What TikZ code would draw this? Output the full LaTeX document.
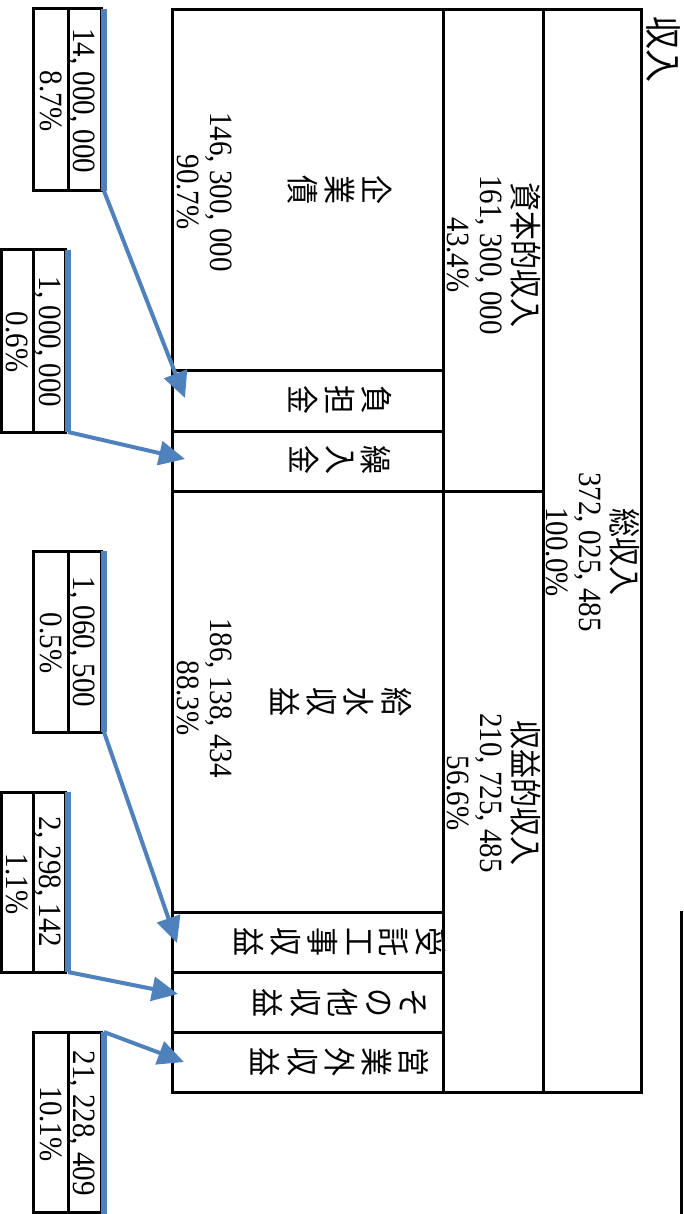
\documentclass[tikz,border=0pt]{standalone}
\usepackage{fontspec}
\usepackage{graphicx}
\setmainfont{Liberation Serif}
\newfontfamily\jp{Noto Sans CJK JP}
\usetikzlibrary{arrows.meta}
\definecolor{bl}{RGB}{79,129,189}
\newcommand\txt[1]{\scalebox{1}[1.12]{\begin{tabular}{@{}c@{}}#1\end{tabular}}}
\tikzset{
  frame/.style={line width=3pt},
  lbl/.style={rotate=-90, inner sep=0pt, font=\fontsize{29}{29.5}\selectfont},
  bar/.style={draw=bl, line width=6pt},
  arr/.style={draw=bl, line width=4pt, -{Triangle[length=26pt,width=24pt]}},
}
\begin{document}
\begin{tikzpicture}[x=1pt,y=-1pt]
\useasboundingbox (0,0) rectangle (683,1214);
% main table
\draw[frame] (172,10) rectangle (641,1092);
\draw[frame] (543,10) -- (543,1092);
\draw[frame] (443,10) -- (443,1092);
\draw[frame] (172,491) -- (543,491);
\foreach \yy in {370,431,912,972,1032}
  \draw[frame] (172,\yy) -- (443,\yy);
\draw[frame] (681,911) -- (681,1214);
% small boxes
\draw[frame] (33,9) rectangle (101,191);   \draw[frame] (68,9) -- (68,191);
\draw[frame] (1.5,250) rectangle (65,432); \draw[frame] (33,250) -- (33,432);
\draw[frame] (33,551) rectangle (101,732); \draw[frame] (68,551) -- (68,732);
\draw[frame] (1.5,792) rectangle (65,972); \draw[frame] (33,792) -- (33,972);
\draw[frame] (33,1032) rectangle (101,1212); \draw[frame] (68,1032) -- (68,1212);
% blue bars
\coordinate (b1t) at (104,9);    \coordinate (b1b) at (104,191);
\coordinate (b2t) at (68,250);   \coordinate (b2b) at (68,432);
\coordinate (b3t) at (104,551);  \coordinate (b3b) at (104,732);
\coordinate (b4t) at (68,792);   \coordinate (b4b) at (68,972);
\coordinate (b5t) at (104,1032); \coordinate (b5b) at (104,1214);
\draw[bar] (b1t) -- (b1b);
\draw[bar] (b2t) -- (b2b);
\draw[bar] (b3t) -- (b3b);
\draw[bar] (b4t) -- (b4b);
\draw[bar] (b5t) -- (b5b);
% arrow targets
\coordinate (t1) at (185,398);
\coordinate (t2) at (185,459);
\coordinate (t3) at (177,943);
\coordinate (t4) at (178,994);
\coordinate (t5) at (184,1062);
\draw[arr] (b1b) -- (t1);
\draw[arr] (b2b) -- (t2);
\draw[arr] (b3b) -- (t3);
\draw[arr] (b4b) -- (t4);
\draw[arr] (b5t) -- (t5);
% texts
\node[lbl, font=\jp\fontsize{33}{33}\selectfont] (title) at (659,50) {\txt{収入}};
\node[lbl] (tot) at (588,552) {\txt{{\jp 総収入}\\372, 025, 485\\100.0\%}};
\node[lbl] (cap) at (489,255) {\txt{{\jp 資本的収入}\\161, 300, 000\\43.4\%}};
\node[lbl] (rev) at (489,793) {\txt{{\jp 収益的収入}\\210, 725, 485\\56.6\%}};
\node[lbl, font=\jp\fontsize{29}{29.5}\selectfont] (bond) at (336,190) {\txt{企\\業\\債}};
\node[lbl] (bondv) at (201,192) {\txt{146, 300, 000\\90.7\%}};
\node[lbl, font=\jp\fontsize{29}{29.5}\selectfont] (futan) at (336,400) {\txt{負\\担\\金}};
\node[lbl, font=\jp\fontsize{29}{29.5}\selectfont] (kuri) at (336,460) {\txt{繰\\入\\金}};
\node[lbl, font=\jp\fontsize{29}{29.5}\selectfont] (kyu) at (337,702) {\txt{給\\水\\収\\益}};
\node[lbl] (kyuv) at (201,698) {\txt{186, 138, 434\\88.3\%}};
\node[lbl, font=\jp\fontsize{29}{29.8}\selectfont] (jutaku) at (336,942) {\txt{受\\託\\工\\事\\収\\益}};
\node[lbl, font=\jp\fontsize{29}{29.8}\selectfont] (sonota) at (336,1003) {\txt{そ\\の\\他\\収\\益}};
\node[lbl, font=\jp\fontsize{29}{29.8}\selectfont] (eigyo) at (336,1062) {\txt{営\\業\\外\\収\\益}};
% small box texts
\node[lbl] (v1) at (80,101) {\txt{14, 000, 000}};
\node[lbl] (p1) at (47,101) {\txt{8.7\%}};
\node[lbl] (v2) at (46,342) {\txt{1, 000, 000}};
\node[lbl] (p2) at (13,342) {\txt{0.6\%}};
\node[lbl] (v3) at (80,642) {\txt{1, 060, 500}};
\node[lbl] (p3) at (47,643) {\txt{0.5\%}};
\node[lbl] (v4) at (46,882) {\txt{2, 298, 142}};
\node[lbl] (p4) at (13,884) {\txt{1.1\%}};
\node[lbl] (v5) at (80,1123) {\txt{21, 228, 409}};
\node[lbl] (p5) at (47,1124) {\txt{10.1\%}};
\end{tikzpicture}
\end{document}
